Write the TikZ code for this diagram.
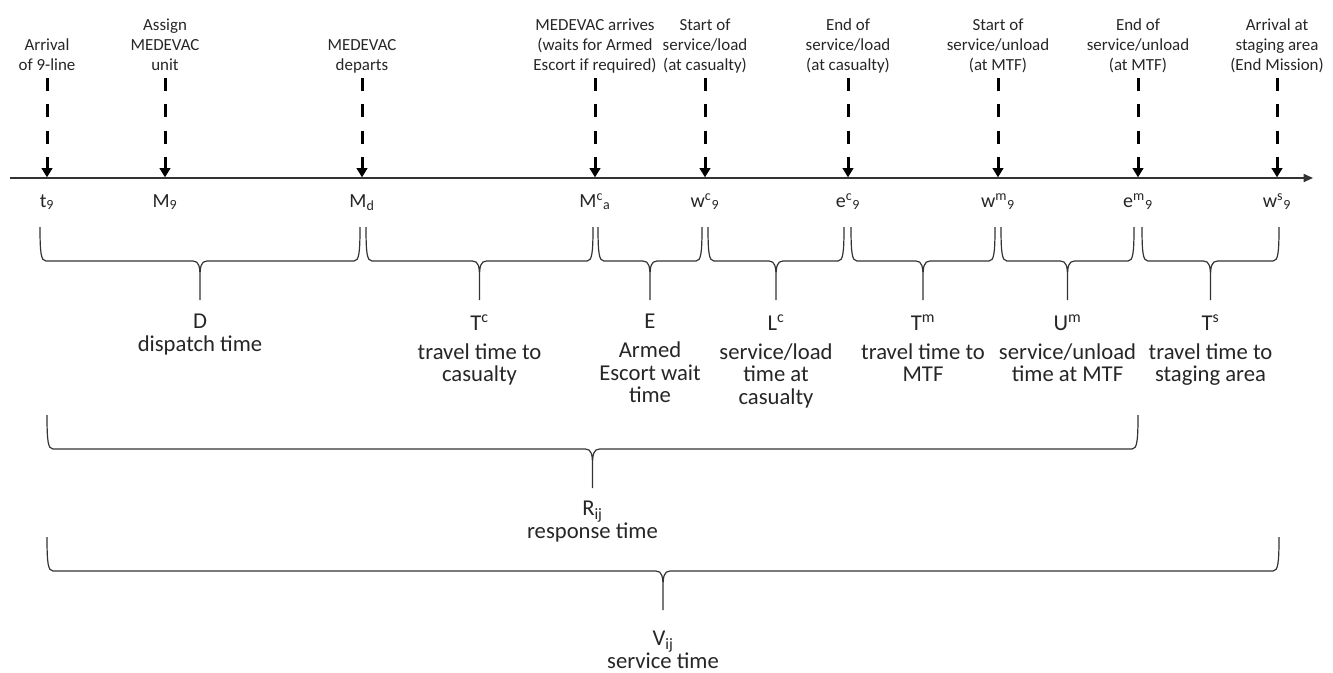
\documentclass[tikz,border=0pt]{standalone}
\usepackage{fontspec}
\setmainfont{Carlito}
\usetikzlibrary{arrows.meta, calc}

\tikzset{
  span/.style={draw=black!80, line width=0.9pt, to path={
    let \p1=(\tikztostart), \p2=(\tikztotarget), \p3=($(\p1)!.5!(\p2)$) in
    (\p1) .. controls +(0,26) and +(-5,0) .. (\x1+4.5pt,\y1-25.5pt)
    -- (\x3-5.25pt,\y1-25.5pt) .. controls +(6,0) and +(0,-10) .. (\x3,\y1-37.5pt)
    -- (\x3,\y1-54.75pt) \tikztonodes -- (\x3,\y1-37.5pt)
    .. controls +(0,-10) and +(-6,0) .. (\x3+5.25pt,\y1-25.5pt)
    -- (\x2-4.5pt,\y1-25.5pt) .. controls +(5,0) and +(0,26) .. (\p2)}},
}

\begin{document}
\begin{tikzpicture}[x=0.75pt, y=-0.75pt,
    axis/.style={line width=1.2pt, draw=black!80, -{Triangle[width=6pt,length=7pt]}},
    cue/.style={line width=2.25pt, dash pattern=on 9.75pt off 10pt,
      -{Triangle[width=8pt,length=7pt]}, shorten <=5.25pt, shorten >=0.5pt},
    event/.style={anchor=south, inner sep=0pt, text depth=0pt, align=center,
      font=\fontsize{12.7}{15}\selectfont, text=black!85},
    stamp/.style={anchor=base, inner sep=0pt, font=\fontsize{15}{17}\selectfont, text=black!85},
    spanlabel/.style={anchor=north, inner sep=0pt, align=center,
      font=\fontsize{17}{17}\selectfont, text=black!85}]
\useasboundingbox (0,0) rectangle (1333,672);

% the time line
  \coordinate (origin) at (10,178);
  \coordinate (tmax)   at (1313,178);
  \draw[axis] (origin) -- (tmax);

% the events on the time line
  \foreach \ev/\x/\what/\sym in {
    t9/47/{Arrival\\of 9-line}/{t\textsubscript{9}},
    M9/165/{Assign\\MEDEVAC\\unit}/{M\textsubscript{9}},
    Md/362/{MEDEVAC\\departs}/{M\textsubscript{d}},
    Mca/595/{MEDEVAC arrives\\(waits for Armed\\Escort if required)}/{M\textsuperscript{c}\textsubscript{a}},
    wc9/705/{Start of\\service/load\\(at casualty)}/{w\textsuperscript{c}\textsubscript{9}},
    ec9/848/{End of\\service/load\\(at casualty)}/{e\textsuperscript{c}\textsubscript{9}},
    wm9/998/{Start of\\service/unload\\(at MTF)}/{w\textsuperscript{m}\textsubscript{9}},
    em9/1138/{End of\\service/unload\\(at MTF)}/{e\textsuperscript{m}\textsubscript{9}},
    ws9/1277/{Arrival at\\staging area\\(End Mission)}/{w\textsuperscript{s}\textsubscript{9}}}
  {
    \coordinate (\ev) at (\x,178);
    \node[event] (\ev info) at (\x,71) {\what};
    \node[stamp] (\ev sym) at (\x,207) {\sym};
    \draw[cue] (\ev info.south) -- (\ev);
  }

% the spans between events
  \foreach \a/\da/\b/\db/\dy/\sh/\lbl in {
    t9/-7/Md/-2/49/-19/{D\\dispatch time},
    Md/4/Mca/-2/49/-19/{T\textsuperscript{c}\\[4.5pt]travel time to\\casualty},
    Mca/3/wc9/-3/49/-19/{E\\[4.5pt]Armed\\Escort wait\\time},
    wc9/3/ec9/-4/49/-19/{L\textsuperscript{c}\\[4.5pt]service/load\\time at\\casualty},
    ec9/3/wm9/-3/49/-19/{T\textsuperscript{m}\\[4.5pt]travel time to\\MTF},
    wm9/3/em9/-4/49/-19/{U\textsuperscript{m}\\[4.5pt]service/unload\\time at MTF},
    em9/4/ws9/2/49/-19/{T\textsuperscript{s}\\[4.5pt]travel time to\\staging area},
    t9/0/em9/0/237/-18/{R\textsubscript{ij}\\response time},
    t9/0/ws9/2/359/-24/{V\textsubscript{ij}\\service time}}
    \draw[span] ($(\a)+(\da,\dy)$) to node[spanlabel, yshift=\sh pt] (\a-\b) {\lbl} ($(\b)+(\db,\dy)$);

\end{tikzpicture}
\end{document}
